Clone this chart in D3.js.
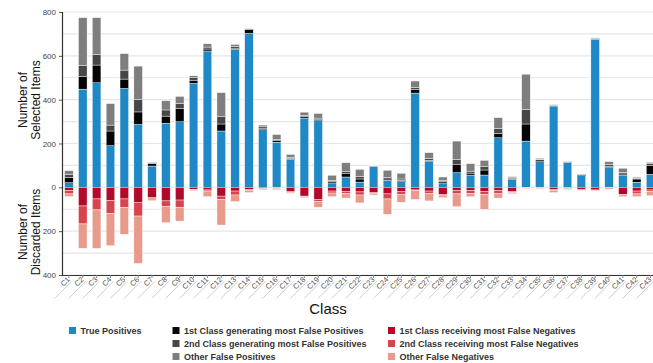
<!DOCTYPE html>
<html>
<head>
<meta charset="utf-8">
<script src="https://cdn.jsdelivr.net/npm/d3@7"></script>
<style>
  html, body { margin: 0; padding: 0; background: #fff; }
  svg { display: block; font-family: "Liberation Sans", Arial, Helvetica, sans-serif; }
</style>
</head>
<body>
<svg id="chart" width="653" height="363"></svg>
<script>
// Class labels
const classes = ["C1","C2","C3","C4","C5","C6","C7","C8","C9","C10","C11","C12","C13","C14","C15","C16","C17","C18","C19","C20","C21","C22","C23","C24","C25","C26","C27","C28","C29","C30","C31","C32","C33","C34","C35","C36","C37","C38","C39","C40","C41","C42","C43"];

// Selected items (stacked upward)
const truePositives = [21,448,477,190,451,287,97,292,299,474,622,257,629,702,263,206,129,316,304,20,47,24,94,32,26,430,120,20,67,56,56,226,36,211,117,371,115,53,676,90,56,23,59];
const firstFP       = [24,57,81,67,43,57,11,33,61,15,9,32,6,18,7,7,3,8,7,6,15,14,2,6,6,17,3,6,36,9,23,20,5,78,8,2,1,4,2,6,5,15,40];
const secondFP      = [13,50,48,27,41,57,3,28,23,11,9,33,8,3,6,6,5,4,5,6,9,11,2,8,6,9,9,6,25,9,15,23,3,66,3,2,1,2,2,9,7,3,9];
const otherFP       = [18,219,168,98,75,152,3,42,32,9,15,110,9,2,8,22,13,15,21,23,41,33,1,32,26,29,26,15,83,34,29,49,5,161,4,2,1,2,2,12,19,5,6];

// Discarded items (stacked downward)
const firstFN       = [15,85,53,61,53,68,46,62,58,9,12,40,17,9,6,3,18,40,55,17,18,21,23,30,18,12,17,33,14,15,18,14,18,1,1,9,2,10,12,1,32,17,12];
const secondFN      = [15,82,50,59,40,63,7,26,33,3,5,15,18,6,2,3,5,3,10,9,9,14,4,23,15,3,10,6,16,12,14,13,6,1,1,6,2,3,2,1,3,13,8];
const otherFN       = [12,111,175,146,121,216,8,73,63,3,26,117,30,9,3,5,4,4,26,17,22,36,8,70,35,40,35,8,58,16,68,22,5,3,4,9,6,3,3,6,8,13,18];

// Axis ticks
const yTickValues = [800, 600, 400, 200, 0, -200, -400];
const yGridValues = d3.range(-400, 801, 100);

const upSeries = [
  { name: "True Positives", values: truePositives, color: "#1f88c6" },
  { name: "1st Class generating most False Positives", values: firstFP, color: "#050505" },
  { name: "2nd Class generating most False Positives", values: secondFP, color: "#474747" },
  { name: "Other False Positives", values: otherFP, color: "#7e7e7e" }
];
const downSeries = [
  { name: "1st Class receiving most False Negatives", values: firstFN, color: "#b0092a" },
  { name: "2nd Class receiving most False Negatives", values: secondFN, color: "#d6444e" },
  { name: "Other False Negatives", values: otherFN, color: "#e89b8b" }
];

const svg = d3.select("#chart");
const plot = { left: 62, right: 657.5, top: 12, bottom: 275 };

const x = d3.scaleBand().domain(classes).range([plot.left, plot.right]).paddingInner(0.38).paddingOuter(0.19);
const y = d3.scaleLinear().domain([-400, 800]).range([plot.bottom, plot.top]);

// gridlines
svg.append("g").selectAll("line").data(yGridValues).join("line")
  .attr("x1", plot.left).attr("x2", 653)
  .attr("y1", d => y(d)).attr("y2", d => y(d))
  .attr("stroke", "#e6e6e6").attr("stroke-width", 1.2);

// stacked bars
const bars = svg.append("g");
classes.forEach((c, i) => {
  let acc = 0;
  upSeries.forEach(s => {
    const v = s.values[i];
    bars.append("rect")
      .attr("x", x(c)).attr("width", x.bandwidth())
      .attr("y", y(acc + v)).attr("height", y(acc) - y(acc + v))
      .attr("fill", s.color).attr("stroke", "#fff").attr("stroke-width", 0.4);
    acc += v;
  });
  acc = 0;
  downSeries.forEach(s => {
    const v = s.values[i];
    bars.append("rect")
      .attr("x", x(c)).attr("width", x.bandwidth())
      .attr("y", y(acc)).attr("height", y(acc - v) - y(acc))
      .attr("fill", s.color).attr("stroke", "#fff").attr("stroke-width", 0.4);
    acc -= v;
  });
});

// y axis
const yAxis = d3.axisLeft(y).tickValues(yTickValues).tickSize(3).tickPadding(3)
  .tickFormat(d => Math.abs(d));
const yg = svg.append("g").attr("transform", `translate(${plot.left},0)`).call(yAxis);
yg.select(".domain").attr("stroke", "#333").attr("stroke-width", 1.2);
yg.selectAll(".tick line").attr("stroke", "#555");
yg.selectAll("text").attr("font-size", 8).attr("fill", "#444");

// x axis
const xAxis = d3.axisBottom(x).tickSize(3).tickSizeOuter(0);
const xg = svg.append("g").attr("transform", `translate(0,${plot.bottom})`).call(xAxis);
xg.select(".domain").attr("stroke", "#333").attr("stroke-width", 1.2);
xg.selectAll(".tick line").attr("stroke", "#888");
xg.selectAll(".tick").each(function () {
  const t = d3.select(this);
  t.insert("line", "text")
    .attr("transform", "translate(1.5,5) rotate(-45)")
    .attr("x1", 0).attr("x2", -24).attr("y1", 2).attr("y2", 2)
    .attr("stroke", "#c4c4c4").attr("stroke-width", 0.8);
});
xg.selectAll(".tick text")
  .attr("font-size", 7.5).attr("fill", "#555")
  .attr("text-anchor", "end").attr("dy", null).attr("y", null)
  .attr("transform", "translate(1.5,5) rotate(-45)");

// axis titles
function stackedTitle(lines, cx, cy) {
  const g = svg.append("g").attr("transform", `translate(${cx},${cy}) rotate(-90)`);
  g.selectAll("text").data(lines).join("text")
    .attr("text-anchor", "middle")
    .attr("y", (d, i) => i * 12.5)
    .attr("font-size", 12).attr("fill", "#111")
    .text(d => d);
}
stackedTitle(["Number of", "Selected Items"], 27, 100);
stackedTitle(["Number of", "Discarded Items"], 27, 232);

svg.append("text").attr("x", 328).attr("y", 314)
  .attr("text-anchor", "middle").attr("font-size", 15).attr("fill", "#111")
  .text("Class");

// legend
const legendCols = [
  { x: 69, items: [upSeries[0]] },
  { x: 172.5, items: upSeries.slice(1) },
  { x: 388, items: downSeries }
];
const legend = svg.append("g");
legendCols.forEach(col => {
  col.items.forEach((s, j) => {
    const yy = 327 + j * 13;
    legend.append("rect").attr("x", col.x).attr("y", yy).attr("width", 7).attr("height", 7).attr("fill", s.color);
    legend.append("text").attr("x", col.x + 11.5).attr("y", yy + 6.8)
      .attr("font-size", 9).attr("font-weight", "bold").attr("fill", "#333")
      .text(s.name);
  });
});
</script>
</body>
</html>
